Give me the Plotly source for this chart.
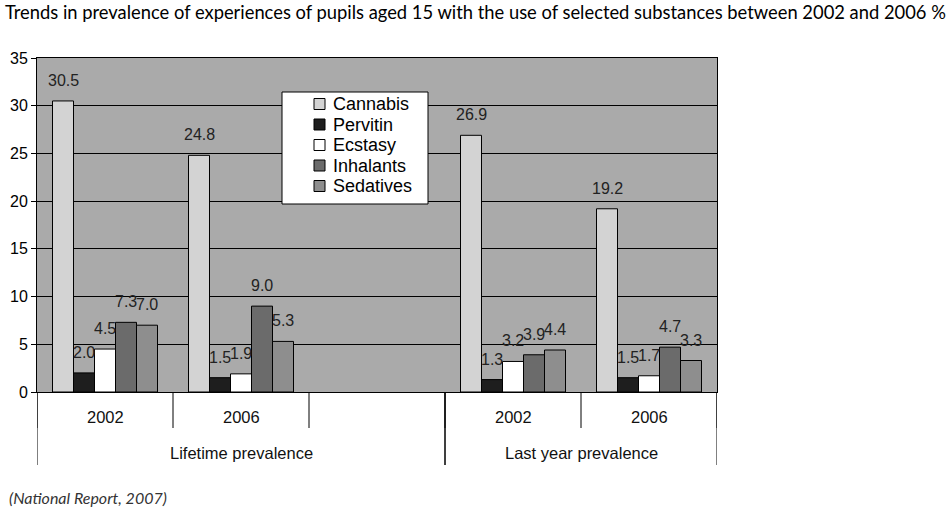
import plotly.graph_objects as go

# ---- data ----
slot_labels = ["2002", "2006", "", "2002", "2006"]
slot_period = ["Lifetime prevalence", "Lifetime prevalence", "Lifetime prevalence",
               "Last year prevalence", "Last year prevalence"]
series_names = ["Cannabis", "Pervitin", "Ecstasy", "Inhalants", "Sedatives"]
cannabis = [30.5, 24.8, None, 26.9, 19.2]
pervitin = [2.0, 1.5, None, 1.3, 1.5]
ecstasy = [4.5, 1.9, None, 3.2, 1.7]
inhalants = [7.3, 9.0, None, 3.9, 4.7]
sedatives = [7.0, 5.3, None, 4.4, 3.3]
series_values = [cannabis, pervitin, ecstasy, inhalants, sedatives]
y_ticks = [0, 5, 10, 15, 20, 25, 30, 35]

colors = ["#d3d3d3", "#1e1e1e", "#ffffff", "#6b6b6b", "#8e8e8e"]

title_text = ("Trends in prevalence of experiences of pupils aged 15 with the use of "
              "selected substances between 2002 and 2006 %")
source_text = "(National Report, 2007)"

W, H = 951, 523
ML, MR, MT, MB = 37, 234, 58, 131
plot_w = W - ML - MR
plot_h = H - MT - MB
BARGAP = 0.228


def px_x(px):
    return (px - ML) / plot_w


def px_y(py):
    return (H - MB - py) / plot_h


xs = list(range(len(slot_labels)))

fig = go.Figure()
for name, vals, col in zip(series_names, series_values, colors):
    fig.add_trace(go.Bar(
        x=xs, y=vals, name=name,
        marker=dict(color=col, line=dict(color="#000000", width=1)),
        hoverinfo="y", showlegend=False,
    ))

annotations = []
shapes = []

# value labels
n = len(series_names)
w = (1 - BARGAP) / n
for i, vals in enumerate(series_values):
    for xi, v in zip(xs, vals):
        if v is None:
            continue
        annotations.append(dict(
            x=xi + (i - (n - 1) / 2) * w, y=v, xref="x", yref="y",
            text=f"{v:.1f}", showarrow=False, yanchor="bottom", yshift=10,
            font=dict(family="Liberation Sans, Arial", size=16, color="#222222"),
        ))

# year labels + boundary ticks
lab_font = dict(family="Liberation Sans, Arial", size=16.5, color="#111111")
for xi, lab in zip(xs, slot_labels):
    if lab:
        annotations.append(dict(
            x=xi, y=px_y(416.5), xref="x", yref="paper", text=lab, showarrow=False,
            yanchor="middle", font=lab_font,
        ))
for b in range(len(xs) + 1):
    shapes.append(dict(type="line", xref="x", yref="paper", x0=b - 0.5, x1=b - 0.5,
                       y0=0, y1=px_y(428), line=dict(color="#000000", width=1)))

# period labels + long dividers
periods = []
for p in slot_period:
    if p not in periods:
        periods.append(p)
for p in periods:
    idx = [i for i, q in enumerate(slot_period) if q == p]
    lo, hi = min(idx) - 0.5, max(idx) + 0.5
    annotations.append(dict(
        x=(lo + hi) / 2, y=px_y(452.5), xref="x", yref="paper", text=p, showarrow=False,
        yanchor="middle", font=lab_font,
    ))
    for bx in (lo, hi):
        shapes.append(dict(type="line", xref="x", yref="paper", x0=bx, x1=bx,
                           y0=0, y1=px_y(465), line=dict(color="#000000", width=1)))

# legend (drawn box)
leg_l, leg_r, leg_t, leg_b = 282, 428, 92, 204
shapes.append(dict(type="rect", xref="paper", yref="paper",
                   x0=px_x(leg_l), x1=px_x(leg_r), y0=px_y(leg_b), y1=px_y(leg_t),
                   fillcolor="#ffffff", line=dict(color="#000000", width=1), layer="above"))
row_h = 20.5
for i, (name, col) in enumerate(zip(series_names, colors)):
    cy = 104 + i * row_h
    shapes.append(dict(type="rect", xref="paper", yref="paper",
                       x0=px_x(314), x1=px_x(325), y0=px_y(cy + 5.5), y1=px_y(cy - 5.5),
                       fillcolor=col, line=dict(color="#000000", width=1), layer="above"))
    annotations.append(dict(
        x=px_x(331), y=px_y(cy), xref="paper", yref="paper", text=name, showarrow=False,
        xanchor="left", yanchor="middle",
        font=dict(family="Liberation Sans, Arial", size=18, color="#000000"),
    ))

# source note
annotations.append(dict(
    x=px_x(7), y=px_y(497), xref="paper", yref="paper", text=source_text, showarrow=False,
    xanchor="left", yanchor="middle",
    font=dict(family="Lato, Liberation Sans, Arial", size=16, color="#333333", style="italic"),
))

fig.update_layout(
    width=W, height=H,
    margin=dict(l=ML, r=MR, t=MT, b=MB, autoexpand=False),
    paper_bgcolor="#ffffff",
    plot_bgcolor="#aaaaaa",
    barmode="group", bargap=BARGAP, bargroupgap=0,
    showlegend=False,
    title=dict(
        text=title_text, xref="container", yref="container",
        x=5 / W, xanchor="left", y=1 - 13 / H, yanchor="middle",
        font=dict(family="Lato, Liberation Sans, Arial", size=18.35, color="#000000"),
    ),
    xaxis=dict(
        range=[-0.5, len(xs) - 0.5], showticklabels=False, ticks="",
        showgrid=False, zeroline=False,
        showline=True, linecolor="#000000", linewidth=1, mirror=True,
        fixedrange=True,
    ),
    yaxis=dict(
        range=[0, 35], tickvals=y_ticks, ticks="outside", ticklen=5, tickcolor="#000000",
        showgrid=True, gridcolor="#000000", gridwidth=1, zeroline=False,
        showline=True, linecolor="#000000", linewidth=1, mirror=True,
        tickfont=dict(family="Liberation Sans, Arial", size=16, color="#000000"),
        fixedrange=True, automargin=False,
    ),
    annotations=annotations,
    shapes=shapes,
)

fig.write_html("out.html", config={"displayModeBar": False},
               post_script="document.body.style.margin='0';")
